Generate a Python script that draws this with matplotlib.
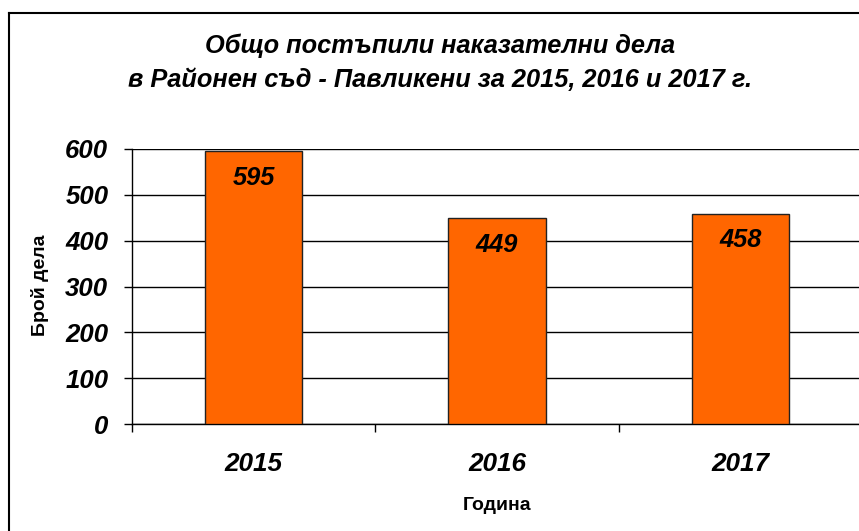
import matplotlib
matplotlib.use("Agg")
import matplotlib.pyplot as plt
from matplotlib.lines import Line2D

years = ["2015", "2016", "2017"]
cases = [595, 449, 458]
y_ticks = [0, 100, 200, 300, 400, 500, 600]
title_lines = ["Общо постъпили наказателни дела",
               "в Районен съд - Павликени за 2015, 2016 и 2017 г."]
x_label = "Година"
y_label = "Брой дела"

plt.rcParams['font.family'] = ['Liberation Sans', 'DejaVu Sans']

W, H = 859, 531
fig = plt.figure(figsize=(W / 100, H / 100), dpi=100)
fig.patch.set_facecolor("white")

def fx(px):
    return px / W

def fy(py):
    return 1 - py / H

ax = fig.add_axes([fx(132), fy(424), fx(862) - fx(132), fy(149) - fy(424)])

xs = list(range(len(years)))
ax.bar(xs, cases, width=0.40, color="#FF6600", edgecolor="#222222", linewidth=1.0, zorder=3)

ax.set_xlim(-0.5, len(years) - 0.5)
ax.set_ylim(0, 600)
ax.set_yticks(y_ticks)
ax.set_yticklabels([str(v) for v in y_ticks])
for t in ax.get_yticklabels():
    t.set_fontsize(18.5)
    t.set_fontweight("bold")
    t.set_fontstyle("italic")
ax.tick_params(axis="y", direction="out", length=6, width=1, color="black", pad=11)

# category boundaries as major ticks, labels at centers as minor ticks
ax.set_xticks([i - 0.5 for i in range(len(years) + 1)])
ax.set_xticklabels([])
ax.set_xticks(xs, minor=True)
ax.set_xticklabels(years, minor=True, fontsize=18.8, fontweight="bold", fontstyle="italic")
ax.tick_params(axis="x", which="major", direction="out", length=6, width=1, color="black")
ax.tick_params(axis="x", which="minor", length=0, pad=20)

ax.yaxis.grid(True, color="black", linewidth=1.0, zorder=0)
ax.set_axisbelow(True)
for s in ["top", "right"]:
    ax.spines[s].set_visible(False)
ax.spines["left"].set_color("black")
ax.spines["bottom"].set_color("black")
ax.spines["left"].set_linewidth(1.0)
ax.spines["bottom"].set_linewidth(1.0)

for x, v in zip(xs, cases):
    ax.annotate(str(v), xy=(x, v), xytext=(0, -19), textcoords="offset points",
                ha="center", va="center", fontsize=18.3, fontweight="bold",
                fontstyle="italic", zorder=4)

fig.text(fx(40), fy(285), y_label, rotation=90, ha="center", va="center",
         fontsize=14, fontweight="bold")
fig.text(fx(497), fy(505), x_label, ha="center", va="center",
         fontsize=14, fontweight="bold")

fig.text(fx(440), fy(46), title_lines[0], ha="center", va="center",
         fontsize=18.3, fontweight="bold", fontstyle="italic")
fig.text(fx(440), fy(80), title_lines[1], ha="center", va="center",
         fontsize=18.3, fontweight="bold", fontstyle="italic")

# chart-area border (continues beyond the cropped image)
fig.add_artist(Line2D([fx(9), fx(9)], [fy(13), -0.1], transform=fig.transFigure,
                      color="black", linewidth=1.5))
fig.add_artist(Line2D([fx(9), 1.1], [fy(13), fy(13)], transform=fig.transFigure,
                      color="black", linewidth=1.5))

fig.savefig("out.png", dpi=100, facecolor="white")
